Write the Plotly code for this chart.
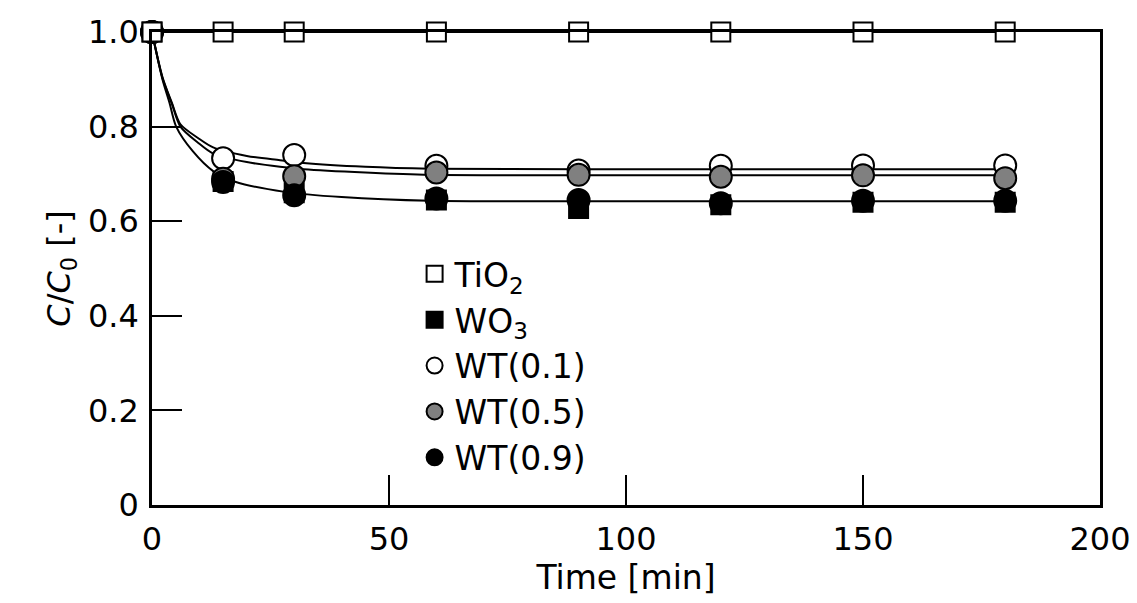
import plotly.graph_objects as go

# ---- data ----
time_min = [0, 15, 30, 60, 90, 120, 150, 180]
tio2 = [1.0, 1.0, 1.0, 1.0, 1.0, 1.0, 1.0, 1.0]
wo3 = [1.0, 0.684, 0.660, 0.645, 0.627, 0.635, 0.640, 0.640]
wt01 = [1.0, 0.733, 0.740, 0.717, 0.707, 0.717, 0.718, 0.718]
wt05 = [1.0, 0.690, 0.695, 0.703, 0.698, 0.694, 0.697, 0.691]
wt09 = [1.0, 0.683, 0.655, 0.648, 0.645, 0.638, 0.643, 0.643]

# fitted curves
fit_top_t = [0, 2.2, 4.2, 6.0, 9.7, 12.9, 20, 27, 32, 45, 58.6, 90, 120, 150, 180]
fit_top_v = [1.0, 0.905, 0.85, 0.805, 0.776, 0.756, 0.738, 0.729, 0.723, 0.715, 0.711, 0.710, 0.710, 0.710, 0.710]
fit_mid_t = [0, 2.2, 4.2, 6.0, 9.7, 12.9, 20, 27, 32, 45, 58.6, 90, 120, 150, 180]
fit_mid_v = [1.0, 0.903, 0.848, 0.80, 0.766, 0.743, 0.725, 0.715, 0.710, 0.703, 0.698, 0.697, 0.697, 0.697, 0.697]
fit_bot_t = [0, 2.2, 3.7, 5.1, 8.6, 12.9, 17.7, 28, 40, 58.6, 90, 120, 150, 180]
fit_bot_v = [1.0, 0.90, 0.85, 0.80, 0.748, 0.706, 0.683, 0.662, 0.651, 0.643, 0.642, 0.642, 0.642, 0.642]

x_ticks = [0, 50, 100, 150, 200]
y_ticks = [0, 0.2, 0.4, 0.6, 0.8, 1.0]
y_tick_text = ["0", "0.2", "0.4", "0.6", "0.8", "1.0"]

FONT = "DejaVu Sans, sans-serif"

fig = go.Figure()

for t, v in [(fit_top_t, fit_top_v), (fit_mid_t, fit_mid_v), (fit_bot_t, fit_bot_v)]:
    fig.add_trace(go.Scatter(x=t, y=v, mode="lines", showlegend=False,
                             line=dict(color="black", width=2, shape="spline", smoothing=0.8),
                             hoverinfo="skip"))

# TiO2 line (constant)
fig.add_trace(go.Scatter(x=time_min, y=tio2, mode="lines", showlegend=False, cliponaxis=False,
                         line=dict(color="black", width=2)))

mk_line = dict(color="black", width=2)
fig.add_trace(go.Scatter(x=time_min, y=wo3, mode="markers", name="WO<sub>3</sub>", legendrank=2,
                         cliponaxis=False,
                         marker=dict(symbol="square", size=19, color="black", line=mk_line)))
fig.add_trace(go.Scatter(x=time_min, y=wt01, mode="markers", name="WT(0.1)", legendrank=3,
                         cliponaxis=False,
                         marker=dict(symbol="circle", size=22, color="white", line=mk_line)))
fig.add_trace(go.Scatter(x=time_min, y=wt05, mode="markers", name="WT(0.5)", legendrank=4,
                         cliponaxis=False,
                         marker=dict(symbol="circle", size=22, color="#808080", line=mk_line)))
fig.add_trace(go.Scatter(x=time_min, y=wt09, mode="markers", name="WT(0.9)", legendrank=5,
                         cliponaxis=False,
                         marker=dict(symbol="circle", size=22, color="black", line=mk_line)))
fig.add_trace(go.Scatter(x=time_min, y=tio2, mode="markers", name="TiO<sub>2</sub>", legendrank=1,
                         cliponaxis=False,
                         marker=dict(symbol="square", size=19, color="white", line=mk_line)))

axis_common = dict(showline=True, linecolor="black", linewidth=2.5, mirror=True,
                   ticks="inside", ticklen=30, tickwidth=2, tickcolor="black",
                   showgrid=False, zeroline=False, automargin=False,
                   tickfont=dict(family=FONT, size=32, color="black"))

fig.update_xaxes(range=[0, 200], tickvals=x_ticks, ticklabelstandoff=4,
                 title=dict(text="Time [min]", font=dict(family=FONT, size=33, color="black"), standoff=0),
                 **axis_common)
fig.update_yaxes(range=[0, 1.0], tickvals=y_ticks, ticktext=y_tick_text, ticklabelstandoff=4,
                 title=dict(text="<i>C</i>/<i>C</i><sub>0</sub> [-]",
                            font=dict(family=FONT, size=32, color="black"), standoff=8),
                 **axis_common)

fig.update_layout(
    width=1137, height=603,
    margin=dict(l=152, r=37, t=32, b=98, autoexpand=False),
    plot_bgcolor="white", paper_bgcolor="white",
    font=dict(family=FONT, color="black"),
    legend=dict(x=0.277, y=0.548, xanchor="left", yanchor="top",
                bgcolor="rgba(0,0,0,0)", font=dict(family=FONT, size=33, color="black"),
                itemwidth=30, tracegroupgap=0),
)

fig.write_html("out.html")
